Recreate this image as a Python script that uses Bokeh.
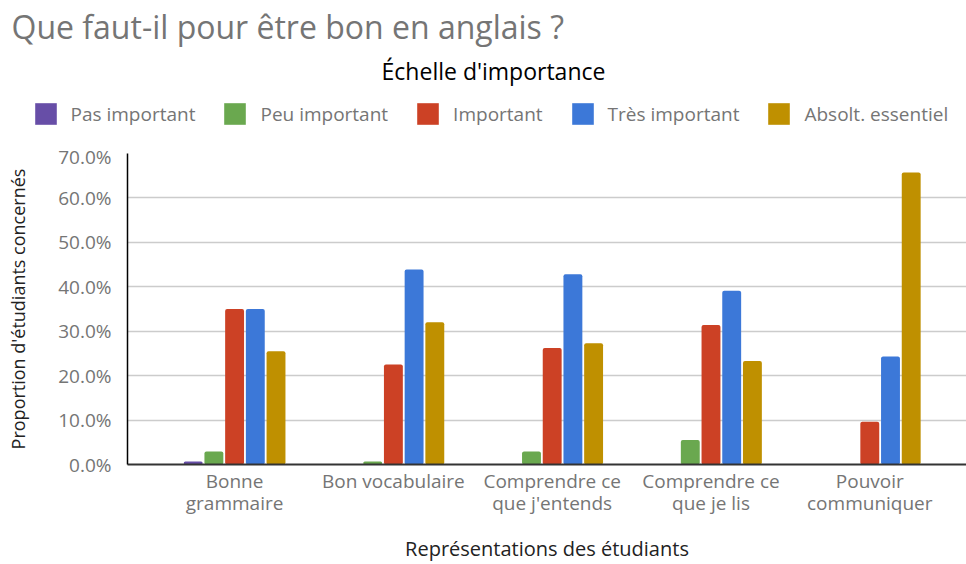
from bokeh.plotting import figure
from bokeh.layouts import column
from bokeh.models import (Range1d, FixedTicker, PrintfTickFormatter, Legend, LegendItem, Label)
from bokeh.embed import file_html
from bokeh.resources import INLINE

title_text = "Que faut-il pour être bon en anglais ?"
legend_title = "Échelle d'importance"
x_title = "Représentations des étudiants"
y_title = "Proportion d'étudiants concernés"

categories = ["Bonne\ngrammaire", "Bon vocabulaire", "Comprendre ce\nque j'entends",
              "Comprendre ce\nque je lis", "Pouvoir\ncommuniquer"]
series_names = ["Pas important", "Peu important", "Important", "Très important", "Absolt. essentiel"]

pas_important = [0.7, 0.0, 0.0, 0.0, 0.0]
peu_important = [2.9, 0.7, 2.9, 5.5, 0.0]
important = [35.0, 22.5, 26.2, 31.4, 9.6]
tres_important = [35.0, 43.9, 42.8, 39.1, 24.3]
absolt_essentiel = [25.5, 32.0, 27.3, 23.3, 65.7]

colors = ["#674ea7", "#6aa84f", "#cc4125", "#3c78d8", "#bf9000"]
y_ticks = [0, 10, 20, 30, 40, 50, 60, 70]

series_values = [pas_important, peu_important, important, tres_important, absolt_essentiel]

FONT = "Open Sans"
GRAY = "#757575"
DARK = "#222222"

W = 966
H_TOP = 143
H_MAIN = 421

step = 0.1304
bar_w = 0.119

# ---------- header: title, legend title and legend ----------
top = figure(width=W, height=H_TOP, output_backend="svg", toolbar_location=None,
             x_range=Range1d(0, W), y_range=Range1d(0, H_TOP), min_border=0,
             x_axis_location=None, y_axis_location=None, title=None)
top.frame_align = False
top.grid.visible = False
top.outline_line_color = None
top.border_fill_color = "white"

top.add_layout(Label(x=11, y=117.2, text=title_text, text_font=FONT,
                     text_font_size="32px", text_color=GRAY, text_baseline="alphabetic",
                     text_align="left"))
top.add_layout(Label(x=493, y=73, text=legend_title, text_font=FONT,
                     text_font_size="23px", text_color="#000000", text_baseline="alphabetic",
                     text_align="center"))

# hidden copies of the series, only used to feed the legend entries
legend_renderers = []
for k, (name, vals, c) in enumerate(zip(series_names, series_values, colors)):
    xs = [i + (k - 2) * step for i in range(len(categories))]
    r = top.vbar(x=xs, top=vals, width=bar_w, fill_color=c, line_color=None, visible=False)
    legend_renderers.append((name, r))

legend = Legend(items=[LegendItem(label=n, renderers=[r]) for n, r in legend_renderers],
                orientation="horizontal", location=(31.5, 16),
                glyph_width=27, glyph_height=27, label_height=27, label_standoff=12, spacing=26,
                padding=0, margin=0, border_line_color=None, background_fill_alpha=0,
                inactive_fill_alpha=0,
                label_text_font=FONT, label_text_font_size="19px", label_text_color=GRAY)
top.add_layout(legend)

# ---------- main chart ----------
p = figure(width=W, height=H_MAIN, output_backend="svg", toolbar_location=None,
           x_range=Range1d(-0.6744, 4.609), y_range=Range1d(0, 70),
           min_border_left=127, min_border_right=0, min_border_top=10, min_border_bottom=99,
           title=None)
p.frame_align = False
p.outline_line_color = None

for k, (name, vals, c) in enumerate(zip(series_names, series_values, colors)):
    xs = [i + (k - 2) * step for i in range(len(categories))]
    p.vbar(x=xs, top=vals, bottom=0, width=bar_w, fill_color=c, line_color=None,
           border_radius=2)

# y axis
p.yaxis.ticker = FixedTicker(ticks=y_ticks)
p.yaxis.formatter = PrintfTickFormatter(format="%.1f%%")
p.yaxis.axis_label = y_title
p.yaxis.axis_label_text_font = FONT
p.yaxis.axis_label_text_font_size = "18px"
p.yaxis.axis_label_text_font_style = "normal"
p.yaxis.axis_label_text_color = DARK
p.yaxis.axis_label_standoff = 25
p.yaxis.major_label_text_font = FONT
p.yaxis.major_label_text_font_size = "19px"
p.yaxis.major_label_text_color = GRAY
p.yaxis.major_label_standoff = 10
p.yaxis.major_tick_line_color = None
p.yaxis.minor_tick_line_color = None
p.yaxis.axis_line_color = "#000000"
p.yaxis.axis_line_width = 1.5

# x axis
p.xaxis.ticker = FixedTicker(ticks=list(range(len(categories))))
p.xaxis.major_label_overrides = {i: c for i, c in enumerate(categories)}
p.xaxis.axis_label = x_title
p.xaxis.axis_label_text_font = FONT
p.xaxis.axis_label_text_font_size = "20px"
p.xaxis.axis_label_text_font_style = "normal"
p.xaxis.axis_label_text_line_height = 0.9
p.xaxis.axis_label_text_color = DARK
p.xaxis.axis_label_standoff = 16
p.xaxis.major_label_text_font = FONT
p.xaxis.major_label_text_font_size = "19px"
p.xaxis.major_label_text_line_height = 0.85
p.xaxis.major_label_text_color = GRAY
p.xaxis.major_label_standoff = -3
p.xaxis.major_tick_line_color = None
p.xaxis.minor_tick_line_color = None
p.xaxis.axis_line_color = "#333333"
p.xaxis.axis_line_width = 2

p.xgrid.visible = False
p.ygrid.grid_line_color = "#cccccc"
p.ygrid.grid_line_width = 1.5

layout = column(top, p, spacing=0)
open("out.html", "w").write(file_html(layout, INLINE))
